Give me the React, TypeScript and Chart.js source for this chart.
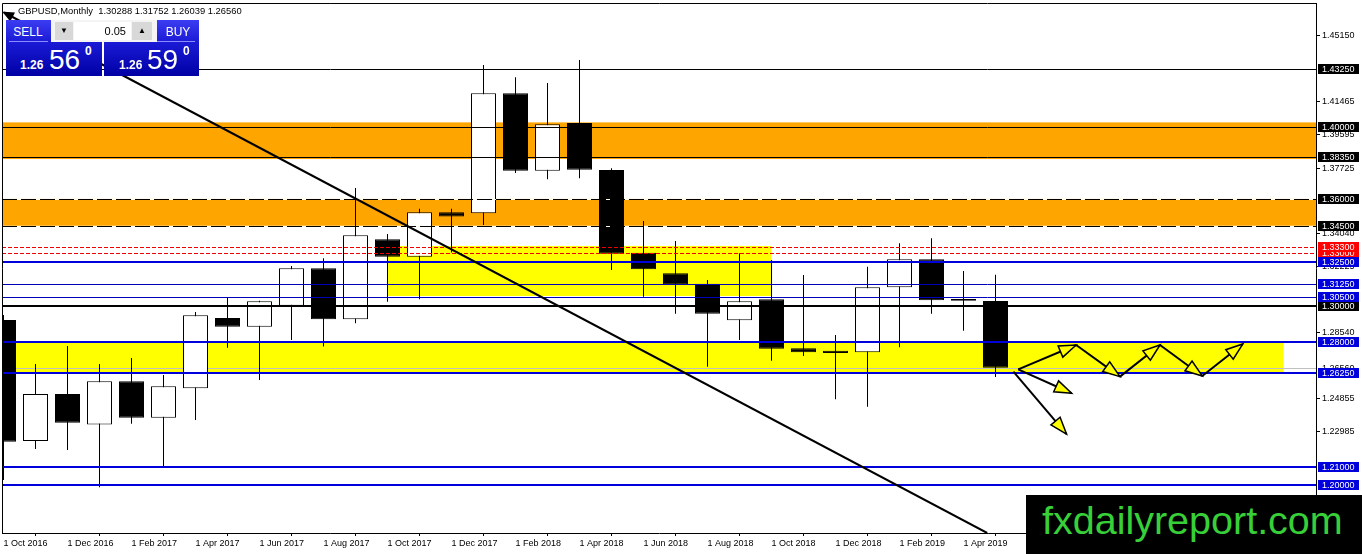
import { useEffect, useRef } from 'react';
import { Chart, registerables } from 'chart.js';

Chart.register(...registerables);

// monthly GBPUSD candles
const months = [
  'Oct 2016', 'Nov 2016', 'Dec 2016', 'Jan 2017', 'Feb 2017', 'Mar 2017', 'Apr 2017', 'May 2017',
  'Jun 2017', 'Jul 2017', 'Aug 2017', 'Sep 2017', 'Oct 2017', 'Nov 2017', 'Dec 2017', 'Jan 2018',
  'Feb 2018', 'Mar 2018', 'Apr 2018', 'May 2018', 'Jun 2018', 'Jul 2018', 'Aug 2018', 'Sep 2018',
  'Oct 2018', 'Nov 2018', 'Dec 2018', 'Jan 2019', 'Feb 2019', 'Mar 2019', 'Apr 2019', 'May 2019',
];
const openPrices = [
  1.2923, 1.2246, 1.2509, 1.2339, 1.2580, 1.2376, 1.2541, 1.2934,
  1.2885, 1.3003, 1.3212, 1.2927, 1.3374, 1.3277, 1.3525, 1.3520,
  1.4191, 1.3758, 1.4025, 1.3762, 1.3299, 1.3184, 1.3126, 1.2921,
  1.3039, 1.2765, 1.2751, 1.2742, 1.3106, 1.3262, 1.3040, 1.30288,
];
const highPrices = [
  1.2951, 1.2677, 1.2777, 1.2677, 1.2710, 1.2615, 1.2968, 1.3046,
  1.3030, 1.3225, 1.3268, 1.3661, 1.3404, 1.3545, 1.3545, 1.4349,
  1.4280, 1.4248, 1.4377, 1.3771, 1.3477, 1.3365, 1.3147, 1.3296,
  1.3258, 1.3174, 1.2839, 1.3221, 1.3352, 1.3380, 1.3197, 1.31752,
];
const lowPrices = [
  1.2028, 1.2201, 1.2196, 1.1987, 1.2343, 1.2102, 1.2364, 1.2768,
  1.2587, 1.2811, 1.2774, 1.2904, 1.3025, 1.3039, 1.3301, 1.3454,
  1.3745, 1.3710, 1.3715, 1.3202, 1.3053, 1.2958, 1.2662, 1.2811,
  1.2695, 1.2721, 1.2479, 1.2438, 1.2770, 1.2958, 1.2863, 1.26039,
];
const closePrices = [
  1.2242, 1.2509, 1.2348, 1.2580, 1.2376, 1.2552, 1.2949, 1.2885,
  1.3027, 1.3212, 1.2927, 1.3397, 1.3277, 1.3525, 1.3501, 1.4191,
  1.3758, 1.4017, 1.3763, 1.3294, 1.3206, 1.3120, 1.2958, 1.3027,
  1.2762, 1.2742, 1.2738, 1.3106, 1.3262, 1.3033, 1.3031, 1.26560,
];

const xTickIndexes = [0, 2, 4, 6, 8, 10, 12, 14, 16, 18, 20, 22, 24, 26, 28, 30];
const xTickLabels = [
  '1 Oct 2016', '1 Dec 2016', '1 Feb 2017', '1 Apr 2017', '1 Jun 2017', '1 Aug 2017', '1 Oct 2017', '1 Dec 2017',
  '1 Feb 2018', '1 Apr 2018', '1 Jun 2018', '1 Aug 2018', '1 Oct 2018', '1 Dec 2018', '1 Feb 2019', '1 Apr 2019',
];
const yTickValues = [1.4515, 1.41465, 1.39595, 1.37725, 1.3404, 1.32225, 1.2854, 1.24855, 1.22985, 1.19245];

// horizontal levels
const blackLevels = [1.4325, 1.4, 1.3835];
const boldBlackLevels = [1.3];
const dashedLevels = [1.36, 1.345];
const redLevels = [1.333, 1.33];
const blueLevels = [1.325, 1.28, 1.2625, 1.21, 1.2];
const thinBlueLevels = [1.3125, 1.305];
const bidPrice = 1.2656;

// zones: [low, high] over the full width, or {from, to, low, high} in month index
const orangeZones = [[1.3823, 1.4028], [1.345, 1.36]];
const yellowZones = [
  { from: 12, to: 24, low: 1.3057, high: 1.3337 },
  { from: -1, to: 40, low: 1.2625, high: 1.28 },
];

// trend line and projection arrows as [month index, price]
const trendLine = [[0.016, 1.46426], [30.74, 1.17315]];
const zigzagPath = [[31.71, 1.2647], [33.52, 1.2783], [34.89, 1.2606], [36.14, 1.2783], [37.46, 1.2610], [38.73, 1.2789]];
const dropArrows = [
  [[31.71, 1.2647], [33.38, 1.2513]],
  [[31.56, 1.2634], [33.22, 1.2285]],
];

const titleText = 'GBPUSD,Monthly  1.30288 1.31752 1.26039 1.26560';

const FONT = 'Liberation Sans';

const overlayPlugin = {
  id: 'mt4Overlay',
  beforeDatasetsDraw(chart: any) {
    const { ctx, chartArea: a, scales } = chart;
    const x = scales.x;
    const y = scales.y;
    ctx.save();
    ctx.beginPath();
    ctx.rect(a.left, a.top, a.width, a.height);
    ctx.clip();
    ctx.fillStyle = '#ffa500';
    orangeZones.forEach(([lo, hi]) => {
      const t = y.getPixelForValue(hi);
      const b = y.getPixelForValue(lo);
      ctx.fillRect(a.left, t, a.width, b - t);
    });
    ctx.fillStyle = '#ffff00';
    yellowZones.forEach((z) => {
      const l = x.getPixelForValue(z.from);
      const r = x.getPixelForValue(z.to);
      const t = y.getPixelForValue(z.high);
      const b = y.getPixelForValue(z.low);
      ctx.fillRect(l, t, r - l, b - t);
    });
    hline(ctx, a, y.getPixelForValue(bidPrice), '#c0c0c0', 1);
    ctx.restore();
  },
  afterDatasetsDraw(chart: any) {
    const { ctx, chartArea: a, scales } = chart;
    const x = scales.x;
    const y = scales.y;
    ctx.save();
    ctx.beginPath();
    ctx.rect(a.left, a.top, a.width, a.height);
    ctx.clip();

    blackLevels.forEach((p) => hline(ctx, a, y.getPixelForValue(p), '#000000', 1));
    boldBlackLevels.forEach((p) => hline(ctx, a, y.getPixelForValue(p), '#000000', 2));
    dashedLevels.forEach((p) => {
      hline(ctx, a, y.getPixelForValue(p), '#fffbe0', 1);
      hline(ctx, a, y.getPixelForValue(p), '#000000', 1, [15, 4]);
    });
    redLevels.forEach((p) => hline(ctx, a, y.getPixelForValue(p), '#ee0000', 1, [4, 2]));
    blueLevels.forEach((p) => hline(ctx, a, y.getPixelForValue(p), '#0000dd', 2));
    thinBlueLevels.forEach((p) => hline(ctx, a, y.getPixelForValue(p), '#0000bb', 1));

    const px = (pt: number[]) => [x.getPixelForValue(pt[0]), y.getPixelForValue(pt[1])];

    // trend line
    const t0 = px(trendLine[0]);
    const t1 = px(trendLine[1]);
    ctx.strokeStyle = '#000';
    ctx.lineWidth = 2;
    ctx.beginPath();
    ctx.moveTo(t0[0], t0[1]);
    ctx.lineTo(t1[0], t1[1]);
    ctx.stroke();
    arrowHead(ctx, t1, t0, 9, 4, '#000', '#000');

    // projection arrows
    for (let i = 1; i < zigzagPath.length; i++) {
      drawArrow(ctx, px(zigzagPath[i - 1]), px(zigzagPath[i]));
    }
    dropArrows.forEach(([s, e]) => drawArrow(ctx, px(s), px(e)));
    ctx.restore();
  },
  afterDraw(chart: any) {
    const { ctx, chartArea: a, scales } = chart;
    const y = scales.y;
    ctx.save();
    ctx.strokeStyle = '#000';
    ctx.lineWidth = 1;
    ctx.beginPath();
    ctx.moveTo(a.left + 0.5, a.bottom);
    ctx.lineTo(a.left + 0.5, a.top + 0.5);
    ctx.lineTo(a.right, a.top + 0.5);
    ctx.stroke();

    ctx.textBaseline = 'middle';
    ctx.fillStyle = '#000';
    ctx.font = `9.4px "${FONT}"`;
    ctx.fillText(titleText, 18, 11);

    // price boxes on the axis
    ctx.font = `9px "${FONT}"`;
    const box = (p: number, bg: string, fg = '#ffffff') => {
      const cy = Math.round(y.getPixelForValue(p));
      ctx.fillStyle = bg;
      ctx.fillRect(a.right + 2, cy - 5, 41, 10);
      ctx.fillStyle = fg;
      ctx.fillText(p.toFixed(5), a.right + 6, cy + 0.5);
    };
    box(bidPrice, '#ffffff', '#000000');
    box(1.33, '#ff0000');
    box(1.3, '#000000');
    blackLevels.forEach((p) => box(p, '#000000'));
    dashedLevels.forEach((p) => box(p, '#000000'));
    redLevels.filter((p) => p !== 1.33).forEach((p) => box(p, '#ff0000'));
    blueLevels.forEach((p) => box(p, '#0000dd'));
    thinBlueLevels.forEach((p) => box(p, '#0000dd'));
    ctx.restore();
  },
};

function hline(ctx: CanvasRenderingContext2D, a: any, yPix: number, color: string, width: number, dash: number[] = []) {
  const yy = width % 2 === 1 ? Math.round(yPix) + 0.5 : Math.round(yPix);
  ctx.save();
  ctx.strokeStyle = color;
  ctx.lineWidth = width;
  ctx.setLineDash(dash);
  ctx.beginPath();
  ctx.moveTo(a.left, yy);
  ctx.lineTo(a.right, yy);
  ctx.stroke();
  ctx.restore();
}

function arrowHead(ctx: CanvasRenderingContext2D, from: number[], tip: number[], len: number, half: number, fill: string, stroke: string) {
  const dx = tip[0] - from[0];
  const dy = tip[1] - from[1];
  const d = Math.hypot(dx, dy) || 1;
  const ux = dx / d;
  const uy = dy / d;
  const bx = tip[0] - ux * len;
  const by = tip[1] - uy * len;
  ctx.beginPath();
  ctx.moveTo(tip[0], tip[1]);
  ctx.lineTo(bx - uy * half, by + ux * half);
  ctx.lineTo(bx + uy * half, by - ux * half);
  ctx.closePath();
  ctx.fillStyle = fill;
  ctx.fill();
  ctx.lineWidth = 1.5;
  ctx.strokeStyle = stroke;
  ctx.stroke();
}

function drawArrow(ctx: CanvasRenderingContext2D, s: number[], e: number[]) {
  ctx.strokeStyle = '#000';
  ctx.lineWidth = 2;
  ctx.beginPath();
  ctx.moveTo(s[0], s[1]);
  ctx.lineTo(e[0], e[1]);
  ctx.stroke();
  arrowHead(ctx, s, e, 17, 6, '#ffff00', '#000');
}

const blueBlock = 'linear-gradient(to bottom, #3c3cf2 0%, #1a1ad6 40%, #0000a4 100%)';

const TradePanel = () => (
  <div style={{ position: 'absolute', left: 0, top: 0, fontFamily: FONT, color: '#fff' }}>
    <div style={{ position: 'absolute', left: 6, top: 20, width: 96, height: 56, background: blueBlock }}>
      <span style={{ position: 'absolute', left: 0, width: 44, top: 6, fontSize: 12, lineHeight: '12px', textAlign: 'center' }}>SELL</span>
      <div style={{ position: 'absolute', left: 3, top: 21, width: 39, height: 1, background: '#8c8cff' }} />
      <span style={{ position: 'absolute', left: 14, top: 39, fontSize: 12, lineHeight: '12px', fontWeight: 'bold' }}>1.26</span>
      <span style={{ position: 'absolute', left: 43, top: 26, fontSize: 28, lineHeight: '28px' }}>56</span>
      <span style={{ position: 'absolute', left: 79, top: 25, fontSize: 12, lineHeight: '12px', fontWeight: 'bold' }}>0</span>
    </div>
    <div style={{ position: 'absolute', left: 104, top: 20, width: 95, height: 56, background: blueBlock }}>
      <span style={{ position: 'absolute', left: 53, width: 42, top: 6, fontSize: 12, lineHeight: '12px', textAlign: 'center' }}>BUY</span>
      <div style={{ position: 'absolute', left: 53, top: 21, width: 38, height: 1, background: '#8c8cff' }} />
      <span style={{ position: 'absolute', left: 15, top: 39, fontSize: 12, lineHeight: '12px', fontWeight: 'bold' }}>1.26</span>
      <span style={{ position: 'absolute', left: 43, top: 26, fontSize: 28, lineHeight: '28px' }}>59</span>
      <span style={{ position: 'absolute', left: 79, top: 25, fontSize: 12, lineHeight: '12px', fontWeight: 'bold' }}>0</span>
    </div>
    <div style={{ position: 'absolute', left: 51, top: 20, width: 106, height: 22, background: '#f4f4f4' }}>
      <div style={{ position: 'absolute', left: 4, top: 2, width: 18, height: 18, background: '#d8d8d8', color: '#000', fontSize: 8, lineHeight: '18px', textAlign: 'center' }}>▼</div>
      <div style={{ position: 'absolute', left: 23, top: 2, width: 57, height: 18, background: '#ffffff', color: '#000', fontSize: 11, lineHeight: '18px' }}>
        <span style={{ position: 'absolute', right: 5 }}>0.05</span>
      </div>
      <div style={{ position: 'absolute', left: 81, top: 2, width: 20, height: 18, background: '#d8d8d8', color: '#000', fontSize: 8, lineHeight: '18px', textAlign: 'center' }}>▲</div>
    </div>
  </div>
);

const noScalePadding = (s: any) => {
  s.paddingTop = 0;
  s.paddingBottom = 0;
  s.paddingLeft = 0;
  s.paddingRight = 0;
};

export default function App() {
  const chartRef = useRef<HTMLCanvasElement>(null);
  const chartInstance = useRef<Chart | null>(null);

  useEffect(() => {
    if (!chartRef.current) return;
    if (chartInstance.current) chartInstance.current.destroy();

    const bodies = months.map((_, i) => ({ x: i, y: [openPrices[i], closePrices[i]] }));
    const wicks = months.map((_, i) => ({ x: i, y: [lowPrices[i], highPrices[i]] }));
    const bodyFill = months.map((_, i) => (closePrices[i] > openPrices[i] ? '#ffffff' : '#000000'));

    // 32 px per month, left edge of the plot sits 1.5px before the first candle
    const xMin = -1.5 / 32;
    const xMax = xMin + 1314 / 32;
    const yMax = 1.2 + 482 / 1788;
    const yMin = yMax - 530 / 1788;

    chartInstance.current = new Chart(chartRef.current, {
      type: 'bar',
      data: {
        datasets: [
          {
            data: bodies as any,
            backgroundColor: bodyFill,
            borderColor: '#000000',
            borderWidth: 1,
            borderSkipped: false,
            barThickness: 25,
            grouped: false,
            inflateAmount: 0,
            order: 0,
            clip: 0,
          },
          {
            data: wicks as any,
            backgroundColor: '#000000',
            borderWidth: 0,
            barThickness: 1,
            grouped: false,
            inflateAmount: 0,
            order: 1,
            clip: 0,
          },
        ],
      },
      options: {
        animation: false,
        responsive: true,
        maintainAspectRatio: false,
        events: [],
        layout: { padding: { left: 2, top: 3, right: 0, bottom: 0 } },
        plugins: { legend: { display: false }, tooltip: { enabled: false } },
        scales: {
          x: {
            type: 'linear',
            min: xMin,
            max: xMax,
            offset: false,
            afterBuildTicks: (s: any) => { s.ticks = xTickIndexes.map((v) => ({ value: v })); },
            afterFit: (s: any) => { s.height = 21; noScalePadding(s); },
            ticks: {
              autoSkip: false,
              maxRotation: 0,
              minRotation: 0,
              align: 'start',
              padding: 2,
              color: '#000',
              font: { family: FONT, size: 9 },
              callback: (v: any) => xTickLabels[xTickIndexes.indexOf(Number(v))] ?? '',
            },
            grid: { drawOnChartArea: false, drawTicks: true, tickLength: 3, color: '#000' },
            border: { display: true, color: '#000', width: 1 },
          },
          y: {
            type: 'linear',
            position: 'right',
            min: yMin,
            max: yMax,
            afterBuildTicks: (s: any) => { s.ticks = yTickValues.map((v) => ({ value: v })); },
            afterFit: (s: any) => { s.width = 46; noScalePadding(s); },
            ticks: {
              autoSkip: false,
              padding: 2,
              color: '#000',
              font: { family: FONT, size: 9 },
              callback: (v: any) => Number(v).toFixed(5),
            },
            grid: { drawOnChartArea: false, drawTicks: true, tickLength: 4, color: '#000' },
            border: { display: true, color: '#000', width: 1 },
          },
        },
      } as any,
      plugins: [overlayPlugin],
    });

    return () => {
      if (chartInstance.current) {
        chartInstance.current.destroy();
        chartInstance.current = null;
      }
    };
  }, []);

  return (
    <div style={{ position: 'fixed', left: 0, top: 0, width: 1362, height: 554, background: '#fff', overflow: 'hidden' }}>
      <canvas ref={chartRef} />
      <TradePanel />
      <div style={{ position: 'absolute', left: 1026, top: 495, width: 336, height: 59, background: '#000' }} />
      <div style={{ position: 'absolute', left: 1042, top: 500, fontFamily: FONT, fontSize: 39.5, lineHeight: '40px', color: '#38d038', whiteSpace: 'nowrap' }}>
        fxdailyreport.com
      </div>
    </div>
  );
}
